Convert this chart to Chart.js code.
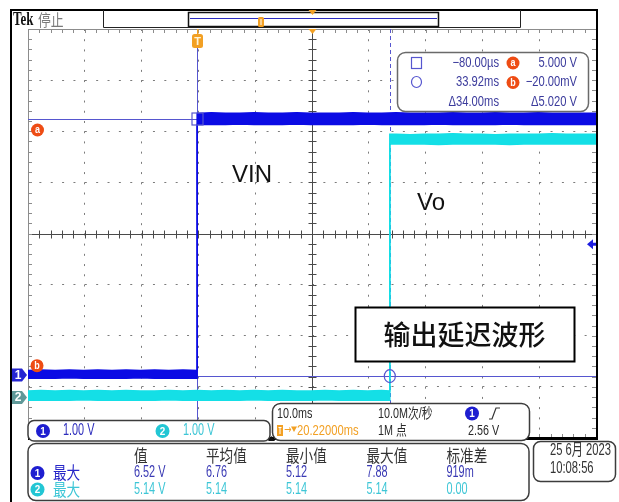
<!DOCTYPE html>
<html>
<head>
<meta charset="utf-8">
<script src="https://cdn.jsdelivr.net/npm/chart.js@4.4.1/dist/chart.umd.min.js"></script>
<style>
  html, body { margin: 0; padding: 0; background: #fff; }
  canvas { display: block; }
</style>
</head>
<body>
<canvas id="scope" width="619" height="502"></canvas>
<script>
// ---- acquisition settings ----
const timePerDiv = 10;                 // ms / div
const triggerDelay = 20.22;            // ms, trigger point to screen centre
const voltsPerDiv = [1.0, 1.0];        // CH1, CH2
const channelPosition = [-2.77, -3.21];// divisions from centre
const triggerLevel = 2.56;             // V on CH1

// ---- CH1 (VIN) envelope: time in ms, volts ----
const ch1Time = [-29.78, -27.5, -25, -22.5, -20, -17.5, -15, -12.5, -10, -7.5, -5, -2.5, 0,
                 0, 2.5, 5, 7.5, 10, 12.5, 15, 17.5, 20, 22.5, 25, 27.5, 30, 32.5, 35, 37.5,
                 40, 42.5, 45, 47.5, 50, 52.5, 55, 57.5, 60, 62.5, 65, 67.5, 70.22];
const ch1Upper = [0.09, 0.10, 0.09, 0.10, 0.09, 0.10, 0.09, 0.10, 0.09, 0.10, 0.09, 0.10, 0.09,
                  5.12, 5.13, 5.12, 5.12, 5.13, 5.12, 5.12, 5.13, 5.12, 5.12, 5.12, 5.13, 5.12, 5.12, 5.13,
                  5.12, 5.12, 5.12, 5.13, 5.12, 5.12, 5.13, 5.12, 5.12, 5.13, 5.12, 5.12, 5.12, 5.12];
const ch1Lower = [-0.06, -0.06, -0.06, -0.05, -0.06, -0.06, -0.06, -0.06, -0.05, -0.06, -0.06, -0.06, -0.06,
                  4.90, 4.90, 4.90, 4.91, 4.90, 4.90, 4.90, 4.91, 4.90, 4.90, 4.90, 4.90, 4.91, 4.90, 4.90,
                  4.90, 4.90, 4.91, 4.90, 4.90, 4.90, 4.90, 4.91, 4.90, 4.90, 4.90, 4.90, 4.90, 4.90];

// ---- CH2 (Vo) envelope: time in ms, volts ----
const ch2Time = [-29.78, -27.5, -25, -22.5, -20, -17.5, -15, -12.5, -10, -7.5, -5, -2.5, 0, 2.5, 5,
                 7.5, 10, 12.5, 15, 17.5, 20, 22.5, 25, 27.5, 30, 32.5, 33.92,
                 33.92, 35, 37.5, 40, 42.5, 45, 47.5, 50, 52.5, 55, 57.5, 60, 62.5, 65, 67.5, 70.22];
const ch2Upper = [0.13, 0.14, 0.13, 0.14, 0.13, 0.14, 0.13, 0.14, 0.13, 0.13, 0.14, 0.13, 0.14, 0.13, 0.14,
                  0.13, 0.14, 0.13, 0.14, 0.13, 0.13, 0.14, 0.13, 0.14, 0.13, 0.14, 0.13,
                  5.15, 5.15, 5.14, 5.15, 5.15, 5.16, 5.15, 5.15, 5.14, 5.15, 5.15, 5.15, 5.16, 5.15, 5.15, 5.15];
const ch2Lower = [-0.05, -0.05, -0.05, -0.05, -0.04, -0.05, -0.05, -0.05, -0.05, -0.05, -0.04, -0.05, -0.05, -0.05, -0.05,
                  -0.05, -0.04, -0.05, -0.05, -0.05, -0.05, -0.04, -0.05, -0.05, -0.05, -0.05, -0.05,
                  4.96, 4.96, 4.96, 4.96, 4.95, 4.96, 4.96, 4.96, 4.96, 4.95, 4.96, 4.96, 4.96, 4.96, 4.96, 4.96];

// ---- cursors (time ms, CH1 volts) ----
const cursorTime = [-0.08, 33.92];
const cursorVolt = [5.000, -0.020];

// ---- readout texts ----
const cursorReadout = [['−80.00µs', '5.000 V'], ['33.92ms', '−20.00mV'], ['Δ34.00ms', 'Δ5.020 V']];
const channelScaleText = ['1.00 V', '1.00 V'];
const horizText = ['10.0ms', '10.0M次/秒', '20.22000ms', '1M 点', '2.56 V'];
const measHeaders = ['值', '平均值', '最小值', '最大值', '标准差'];
const measLabel = '最大';
const measCh1 = ['6.52 V', '6.76', '5.12', '7.88', '919m'];
const measCh2 = ['5.14 V', '5.14', '5.14', '5.14', '0.00'];
const dateText = ['25 6月 2023', '10:08:56'];
const traceLabels = ['VIN', 'Vo'];
const titleText = '输出延迟波形';

// ---- colours ----
const CH1 = '#0b0be4';
const CH2 = '#14dfe6';
const CURSOR = '#5656cf';
const ORANGE = '#f2a024';
const RED_ORANGE = '#ee4c14';
const CH1_TXT = '#3a3ab4';
const CH2_TXT = '#3ec6d6';

const FONT_MIX = '"Liberation Sans", "Noto Sans CJK SC", Arial, sans-serif';
const FONT_CJK = '"Noto Sans CJK SC", sans-serif';

const tMin = triggerDelay - 5 * timePerDiv;
const tMax = triggerDelay + 5 * timePerDiv;
function vRange(ch) {
  return { min: (-4 - channelPosition[ch]) * voltsPerDiv[ch], max: (4 - channelPosition[ch]) * voltsPerDiv[ch] };
}
function pts(t, v) { return t.map((x, i) => ({ x: x, y: v[i] })); }

function text(c, s, x, y, o) {
  c.save();
  c.font = (o.weight || 'normal') + ' ' + o.size + 'px ' + (o.family || FONT_MIX);
  c.fillStyle = o.color || '#222';
  c.textAlign = o.align || 'left';
  c.textBaseline = o.baseline || 'middle';
  c.translate(x, y);
  c.scale(o.sx || 1, 1);
  c.fillText(s, 0, 0);
  c.restore();
}
function badge(c, x, y, r, fill, label) {
  c.beginPath(); c.arc(x, y, r, 0, Math.PI * 2); c.fillStyle = fill; c.fill();
  text(c, label, x, y + 0.5, { size: Math.round(r * 1.6), color: '#fff', align: 'center', weight: 'bold', sx: 0.9 });
}
function box(c, x, y, w, h, r, stroke, lw) {
  c.beginPath(); c.roundRect(x, y, w, h, r);
  c.fillStyle = '#fff'; c.fill();
  c.strokeStyle = stroke; c.lineWidth = lw; c.stroke();
}
function chMarker(c, y, fill, label) {
  c.beginPath();
  c.moveTo(12, y - 6.5); c.lineTo(22, y - 6.5); c.lineTo(27, y); c.lineTo(22, y + 6.5); c.lineTo(12, y + 6.5);
  c.closePath(); c.fillStyle = fill; c.fill();
  text(c, label, 18, y + 0.5, { size: 12, color: '#fff', align: 'center', weight: 'bold' });
}

// graticule centre cross, edges and cursor lines, behind the traces
const graticule = {
  id: 'graticule',
  beforeDatasetsDraw(chart) {
    const c = chart.ctx, a = chart.chartArea;
    const gx = chart.scales.gx, gy = chart.scales.gy, xt = chart.scales.xt, v1 = chart.scales.v1;
    const xc = Math.round(gx.getPixelForValue(5)) + 0.5;
    const yc = Math.round(gy.getPixelForValue(0)) + 0.5;
    c.save();
    c.lineWidth = 1;
    c.strokeStyle = '#4a4a4a';
    c.beginPath();
    c.moveTo(a.left, yc); c.lineTo(a.right, yc);
    c.moveTo(xc, a.top); c.lineTo(xc, a.bottom);
    for (let d = 0; d <= 50; d++) {
      const x = Math.round(gx.getPixelForValue(d / 5)) + 0.5;
      c.moveTo(x, yc - 4); c.lineTo(x, yc + 4);
    }
    for (let d = 0; d <= 40; d++) {
      const y = Math.round(gy.getPixelForValue(-4 + d / 5)) + 0.5;
      c.moveTo(xc - 4, y); c.lineTo(xc + 4, y);
    }
    c.stroke();

    c.strokeStyle = '#8c8c8c';
    c.beginPath();
    c.moveTo(a.left + 0.5, a.top); c.lineTo(a.left + 0.5, a.bottom);
    c.moveTo(a.left, a.top + 0.5); c.lineTo(a.right, a.top + 0.5);
    for (let d = 0; d <= 50; d++) {
      const x = Math.round(gx.getPixelForValue(d / 5)) + 0.5;
      c.moveTo(x, a.top); c.lineTo(x, a.top + 4);
      c.moveTo(x, a.bottom); c.lineTo(x, a.bottom - 4);
    }
    for (let d = 0; d <= 40; d++) {
      const y = Math.round(gy.getPixelForValue(-4 + d / 5)) + 0.5;
      c.moveTo(a.left, y); c.lineTo(a.left + 4, y);
      c.moveTo(a.right, y); c.lineTo(a.right - 4, y);
    }
    c.stroke();

    // cursors
    c.strokeStyle = CURSOR;
    c.beginPath();
    cursorVolt.forEach(v => {
      const y = Math.round(v1.getPixelForValue(v)) + 0.5;
      c.moveTo(a.left, y); c.lineTo(a.right, y);
    });
    const x1 = Math.round(xt.getPixelForValue(cursorTime[0])) + 0.5;
    c.moveTo(x1, a.top + 18); c.lineTo(x1, a.bottom);
    c.stroke();
    const x2 = Math.round(xt.getPixelForValue(cursorTime[1])) + 0.5;
    c.setLineDash([4, 3]);
    c.beginPath(); c.moveTo(x2, a.top); c.lineTo(x2, a.bottom); c.stroke();
    c.restore();
  }
};

// readouts, markers and labels on top
const overlay = {
  id: 'overlay',
  afterDraw(chart) {
    const c = chart.ctx, a = chart.chartArea;
    const xt = chart.scales.xt, v1 = chart.scales.v1, v2 = chart.scales.v2;
    c.save();

    // frame
    c.strokeStyle = '#000'; c.lineWidth = 2;
    c.beginPath();
    c.moveTo(11, 502); c.lineTo(11, 10); c.lineTo(598, 10);
    c.moveTo(a.right + 1, 10); c.lineTo(a.right + 1, a.bottom);
    c.stroke();
    c.lineWidth = 3;
    c.beginPath(); c.moveTo(a.left, a.bottom + 0.5); c.lineTo(a.right + 2, a.bottom + 0.5); c.stroke();

    // header
    text(c, 'Tek', 13, 20, { size: 18, weight: 'bold', color: '#111', family: '"Liberation Serif", serif', sx: 0.72 });
    text(c, '停止', 38, 19.5, { size: 16, color: '#7a7a7a', family: FONT_CJK, sx: 0.8 });
    c.lineWidth = 1; c.strokeStyle = '#222';
    c.beginPath();
    c.moveTo(103.5, 10); c.lineTo(103.5, 27.5); c.lineTo(520.5, 27.5); c.lineTo(520.5, 10);
    c.stroke();
    c.lineWidth = 1.5; c.strokeStyle = '#111';
    c.strokeRect(188.5, 12.5, 250, 14);
    c.lineWidth = 1; c.strokeStyle = '#2a2ac0';
    c.beginPath(); c.moveTo(190, 18.5); c.lineTo(437, 18.5); c.stroke();
    c.fillStyle = ORANGE;
    c.beginPath(); c.roundRect(258, 17, 6, 10, 1.5); c.fill();
    c.fillStyle = '#fff'; c.fillRect(260.5, 19, 1, 6);
    const xCentre = Math.round(chart.scales.gx.getPixelForValue(5)) + 0.5;
    c.fillStyle = ORANGE;
    c.beginPath(); c.moveTo(xCentre - 4, 10); c.lineTo(xCentre + 4, 10); c.lineTo(xCentre, 15); c.closePath(); c.fill();
    c.beginPath(); c.moveTo(xCentre - 4, a.top); c.lineTo(xCentre + 4, a.top); c.lineTo(xCentre, a.top + 5); c.closePath(); c.fill();

    // trigger marker
    const xTrig = Math.round(xt.getPixelForValue(0)) + 0.5;
    c.fillStyle = ORANGE;
    c.fillRect(xTrig - 0.5, a.top, 1.5, 6);
    c.beginPath(); c.roundRect(xTrig - 5.5, a.top + 5, 11, 14, 2.5); c.fill();
    text(c, 'T', xTrig, a.top + 12.5, { size: 11, weight: 'bold', color: '#fff4d8', align: 'center' });

    // trigger level arrow
    const yTrig = v1.getPixelForValue(triggerLevel);
    c.fillStyle = '#1c1ce0';
    c.beginPath(); c.moveTo(a.right - 9, yTrig); c.lineTo(a.right - 3, yTrig - 5); c.lineTo(a.right - 3, yTrig + 5); c.closePath(); c.fill();
    c.fillRect(a.right - 4, yTrig - 1.5, 4, 3);

    // cursor markers
    const yA = v1.getPixelForValue(cursorVolt[0]), yB = v1.getPixelForValue(cursorVolt[1]);
    const xC1 = xt.getPixelForValue(cursorTime[0]), xC2 = xt.getPixelForValue(cursorTime[1]);
    c.strokeStyle = CURSOR; c.lineWidth = 1.2;
    c.strokeRect(Math.round(xC1) - 5, Math.round(yA) - 6, 11, 12);
    c.beginPath(); c.ellipse(xC2, yB, 5.5, 6.5, 0, 0, Math.PI * 2); c.stroke();
    badge(c, 37.5, yA + 10.5, 6.5, RED_ORANGE, 'a');
    badge(c, 37, yB - 10.5, 6.5, RED_ORANGE, 'b');

    // channel ground markers
    chMarker(c, v1.getPixelForValue(0), '#2525d2', '1');
    chMarker(c, v2.getPixelForValue(0), '#5f9898', '2');

    // trace labels and title box
    text(c, traceLabels[0], 232, 182, { size: 24, color: '#111', baseline: 'alphabetic', family: '"Liberation Sans", Arial, sans-serif' });
    text(c, traceLabels[1], 417, 210, { size: 24, color: '#111', baseline: 'alphabetic', family: '"Liberation Sans", Arial, sans-serif' });
    box(c, 355.5, 307.5, 219, 54, 0, '#000', 2);
    text(c, titleText, 464.5, 334.5, { size: 27, color: '#111', align: 'center', family: FONT_CJK, weight: '500' });

    // cursor readout
    box(c, 397.5, 52.5, 191, 59, 8, '#6a6a6a', 1.5);
    c.strokeStyle = CURSOR; c.lineWidth = 1.2;
    c.strokeRect(411.5, 57.5, 10, 11);
    c.beginPath(); c.ellipse(416.5, 82, 5, 5.5, 0, 0, Math.PI * 2); c.stroke();
    const rowY = [63, 82.5, 102];
    const ro = { size: 14, color: '#3b3b9c', sx: 0.8, align: 'right' };
    cursorReadout.forEach((r, i) => {
      text(c, r[0], 499, rowY[i], ro);
      text(c, r[1], 577, rowY[i], ro);
    });
    badge(c, 513, rowY[0], 6.5, RED_ORANGE, 'a');
    badge(c, 513, rowY[1], 6.5, RED_ORANGE, 'b');

    // channel scale box
    box(c, 28, 420.5, 242, 20.5, 6, '#3c3c3c', 1.5);
    badge(c, 43, 431, 7, '#1e1ed0', '1');
    text(c, channelScaleText[0], 63, 431, { size: 16, color: '#2c2cbc', sx: 0.68 });
    badge(c, 162.5, 431, 7, '#22c6d4', '2');
    text(c, channelScaleText[1], 183, 431, { size: 16, color: CH2_TXT, sx: 0.68 });

    // horizontal / acquisition box
    box(c, 272.5, 403.5, 257, 37, 8, '#3c3c3c', 1.5);
    const ho = { size: 14, color: '#2a2a2a', sx: 0.77 };
    text(c, horizText[0], 277, 414, ho);
    text(c, horizText[1], 378, 414, ho);
    badge(c, 472, 413.5, 7, '#1e1ed0', '1');
    c.strokeStyle = '#333'; c.lineWidth = 1.2;
    c.beginPath(); c.moveTo(489, 419); c.lineTo(492, 419); c.lineTo(496, 408); c.lineTo(500, 408); c.stroke();
    c.fillStyle = ORANGE; c.fillRect(277, 425, 6, 11);
    c.fillStyle = '#fff'; c.fillRect(278.5, 427, 3, 1); c.fillRect(279.5, 427, 1, 7);
    text(c, '→', 284, 430.5, { size: 11, color: ORANGE, sx: 0.8, family: '"DejaVu Sans", sans-serif' });
    c.fillStyle = ORANGE;
    c.beginPath(); c.moveTo(291, 426.5); c.lineTo(297, 426.5); c.lineTo(294, 432); c.closePath(); c.fill();
    text(c, horizText[2], 297, 431, { size: 14, color: ORANGE, sx: 0.8 });
    text(c, horizText[3], 378, 431, ho);
    text(c, horizText[4], 468, 431, ho);
    c.fillStyle = '#111';
    c.beginPath(); c.moveTo(268, 441); c.lineTo(275, 441); c.lineTo(271.5, 436); c.closePath(); c.fill();

    // measurement table
    box(c, 28, 443.5, 501, 57, 8, '#3c3c3c', 1.5);
    const colX = [134, 206, 286, 366.5, 446.5];
    measHeaders.forEach((h, i) => text(c, h, colX[i], 456, { size: 17, color: '#333', family: FONT_CJK, sx: 0.8 }));
    badge(c, 37.5, 473, 7, '#1e1ed0', '1');
    text(c, measLabel, 53, 473, { size: 17, color: '#2626c8', family: FONT_CJK, sx: 0.8 });
    badge(c, 37.5, 489.5, 7, '#22c6d4', '2');
    text(c, measLabel, 53, 489.5, { size: 17, color: CH2_TXT, family: FONT_CJK, sx: 0.8 });
    measCh1.forEach((v, i) => text(c, v, colX[i], 473, { size: 16, color: CH1_TXT, sx: 0.68 }));
    measCh2.forEach((v, i) => text(c, v, colX[i], 489.5, { size: 16, color: CH2_TXT, sx: 0.68 }));

    // date box
    box(c, 533.5, 441.5, 82, 40, 7, '#3c3c3c', 1.5);
    text(c, dateText[0], 550, 451, { size: 16, color: '#333', sx: 0.7 });
    text(c, dateText[1], 550, 469, { size: 16, color: '#333', sx: 0.7 });

    c.restore();
  }
};

function gridColor(edges, centre) {
  return ctx => {
    const v = ctx.tick ? ctx.tick.value : null;
    return (edges.includes(v) || v === centre) ? 'rgba(0,0,0,0)' : '#7c7c7c';
  };
}

function trace(label, t, v, color, axis, fill) {
  return {
    label: label, data: pts(t, v), xAxisID: 'xt', yAxisID: axis,
    borderColor: color, backgroundColor: color, borderWidth: 1.5,
    pointRadius: 0, tension: 0, fill: fill
  };
}

new Chart(document.getElementById('scope'), {
  type: 'line',
  data: {
    datasets: [
      trace('CH1 lower', ch1Time, ch1Lower, CH1, 'v1', false),
      trace('CH1 upper', ch1Time, ch1Upper, CH1, 'v1', '-1'),
      trace('CH2 lower', ch2Time, ch2Lower, CH2, 'v2', false),
      trace('CH2 upper', ch2Time, ch2Upper, CH2, 'v2', '-1')
    ]
  },
  options: {
    responsive: false,
    animation: false,
    events: [],
    layout: { padding: { left: 28, top: 29, right: 23, bottom: 64 } },
    plugins: { legend: { display: false }, tooltip: { enabled: false } },
    scales: {
      xt: { type: 'linear', min: tMin, max: tMax, display: false },
      v1: { type: 'linear', min: vRange(0).min, max: vRange(0).max, display: false },
      v2: { type: 'linear', min: vRange(1).min, max: vRange(1).max, display: false },
      gx: {
        type: 'linear', position: 'bottom', min: 0, max: 10,
        ticks: { display: false, stepSize: 1 },
        grid: { drawTicks: false, lineWidth: 1, color: gridColor([0, 10], 5) },
        border: { display: false, dash: [2, 8.22] }
      },
      gy: {
        type: 'linear', position: 'left', min: -4, max: 4,
        ticks: { display: false, stepSize: 1 },
        grid: { drawTicks: false, lineWidth: 1, color: gridColor([-4, 4], 0) },
        border: { display: false, dash: [2, 9.36] }
      }
    }
  },
  plugins: [graticule, overlay]
});
</script>
</body>
</html>
